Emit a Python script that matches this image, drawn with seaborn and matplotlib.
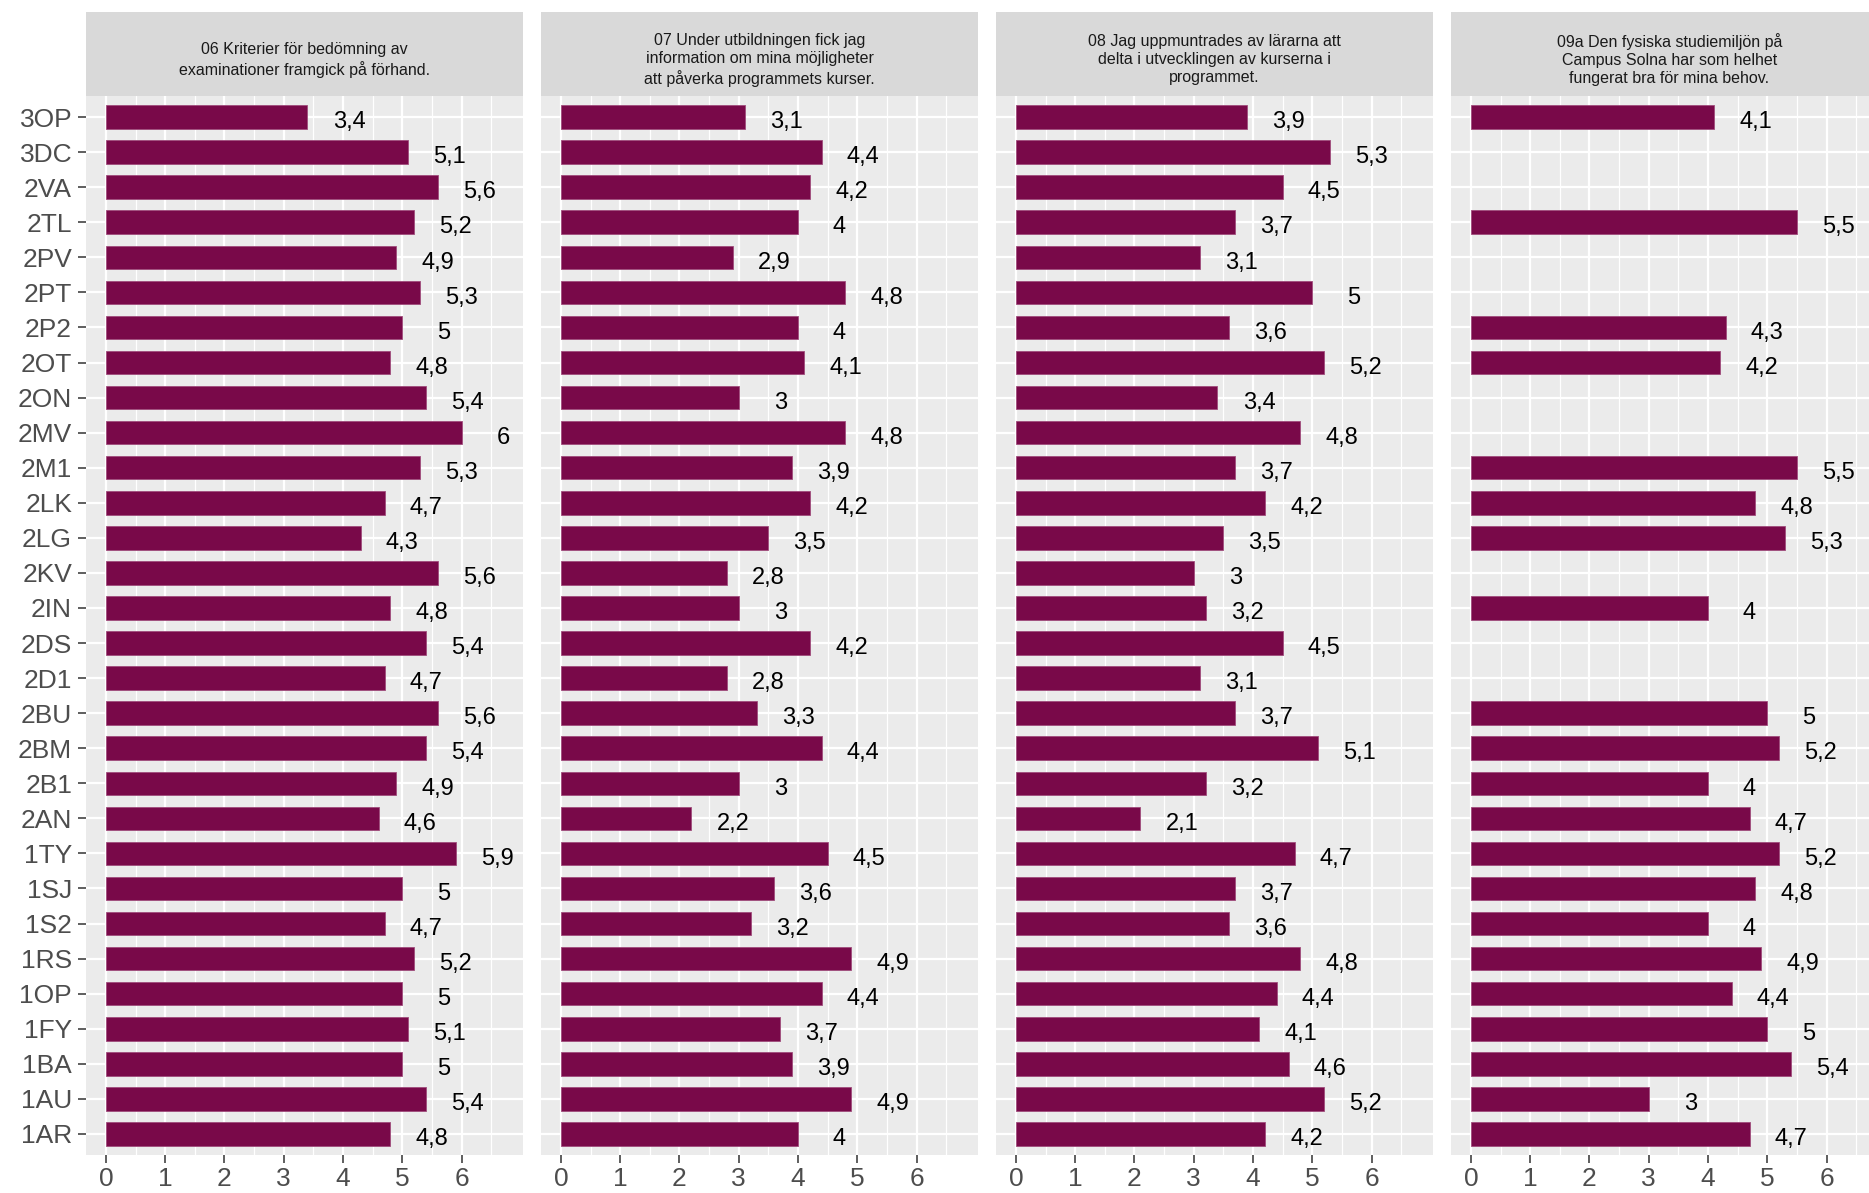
import numpy as np
import matplotlib
matplotlib.use("Agg")
import matplotlib.pyplot as plt
import seaborn as sns

# programme codes, top to bottom
programs = ["3OP", "3DC", "2VA", "2TL", "2PV", "2PT", "2P2", "2OT", "2ON", "2MV",
            "2M1", "2LK", "2LG", "2KV", "2IN", "2DS", "2D1", "2BU", "2BM", "2B1",
            "2AN", "1TY", "1SJ", "1S2", "1RS", "1OP", "1FY", "1BA", "1AU", "1AR"]

q06 = [3.4, 5.1, 5.6, 5.2, 4.9, 5.3, 5.0, 4.8, 5.4, 6.0,
       5.3, 4.7, 4.3, 5.6, 4.8, 5.4, 4.7, 5.6, 5.4, 4.9,
       4.6, 5.9, 5.0, 4.7, 5.2, 5.0, 5.1, 5.0, 5.4, 4.8]
q07 = [3.1, 4.4, 4.2, 4.0, 2.9, 4.8, 4.0, 4.1, 3.0, 4.8,
       3.9, 4.2, 3.5, 2.8, 3.0, 4.2, 2.8, 3.3, 4.4, 3.0,
       2.2, 4.5, 3.6, 3.2, 4.9, 4.4, 3.7, 3.9, 4.9, 4.0]
q08 = [3.9, 5.3, 4.5, 3.7, 3.1, 5.0, 3.6, 5.2, 3.4, 4.8,
       3.7, 4.2, 3.5, 3.0, 3.2, 4.5, 3.1, 3.7, 5.1, 3.2,
       2.1, 4.7, 3.7, 3.6, 4.8, 4.4, 4.1, 4.6, 5.2, 4.2]
nan = np.nan
q09a = [4.1, nan, nan, 5.5, nan, nan, 4.3, 4.2, nan, nan,
        5.5, 4.8, 5.3, nan, 4.0, nan, nan, 5.0, 5.2, 4.0,
        4.7, 5.2, 4.8, 4.0, 4.9, 4.4, 5.0, 5.4, 3.0, 4.7]

titles = [
    "06 Kriterier för bedömning av\nexaminationer framgick på förhand.",
    "07 Under utbildningen fick jag\ninformation om mina möjligheter\natt påverka programmets kurser.",
    "08 Jag uppmuntrades av lärarna att\ndelta i utvecklingen av kurserna i\nprogrammet.",
    "09a Den fysiska studiemiljön på\nCampus Solna har som helhet\nfungerat bra för mina behov.",
]
series = [q06, q07, q08, q09a]

sns.set_theme(style="darkgrid")
plt.rcParams["font.family"] = ["Liberation Sans", "DejaVu Sans"]

bar_color = "#790949"
W, H = 1869, 1193
fig = plt.figure(figsize=(W / 100, H / 100), dpi=100)
fig.patch.set_facecolor("white")

lefts = [86, 541, 996, 1451]
pw = 437
p_top, p_bot = 96, 1155
s_top = 12

for i, (vals, title) in enumerate(zip(series, titles)):
    ax = fig.add_axes([lefts[i] / W, (H - p_bot) / H, pw / W, (p_bot - p_top) / H])
    ax.set_facecolor("#EBEBEB")
    sns.barplot(x=vals, y=programs, order=programs, orient="h", color=bar_color,
                saturation=1, width=0.67, edgecolor="#a04c7c", linewidth=0.6, ax=ax)
    for j, v in enumerate(vals):
        if np.isnan(v):
            continue
        ax.text(v + 0.7, j + 0.15, f"{v:g}".replace(".", ","), ha="center", va="center",
                fontsize=17, color="black")
    ax.set_xlim(-0.335, 7.035)
    ax.set_ylim(len(programs) - 0.4, -0.6)
    ax.set_xticks(range(7))
    ax.set_xticks(np.arange(0.5, 7, 1), minor=True)
    ax.grid(which="major", color="white", linewidth=1.6)
    ax.grid(which="minor", axis="x", color="white", linewidth=0.9)
    ax.set_axisbelow(True)
    for s in ax.spines.values():
        s.set_visible(False)
    ax.set_xlabel("")
    ax.set_ylabel("")
    ax.tick_params(axis="x", which="major", length=6, width=1.1, color="#333333",
                   labelsize=19, labelcolor="#4D4D4D", pad=3, bottom=True)
    ax.tick_params(axis="x", which="minor", length=0)
    if i == 0:
        ax.tick_params(axis="y", length=6, width=1.1, color="#333333",
                       labelsize=19, labelcolor="#4D4D4D", pad=4, left=True)
    else:
        ax.tick_params(axis="y", length=0, labelleft=False)

    # facet strip
    sax = fig.add_axes([lefts[i] / W, (H - p_top) / H, pw / W, (p_top - s_top) / H])
    sax.set_facecolor("#D9D9D9")
    sax.set_xticks([])
    sax.set_yticks([])
    for s in sax.spines.values():
        s.set_visible(False)
    sax.text(0.5, 0.43, title, ha="center", va="center", fontsize=11.5,
             color="#1A1A1A", linespacing=1.25, transform=sax.transAxes)

fig.savefig("out.png", dpi=100)
